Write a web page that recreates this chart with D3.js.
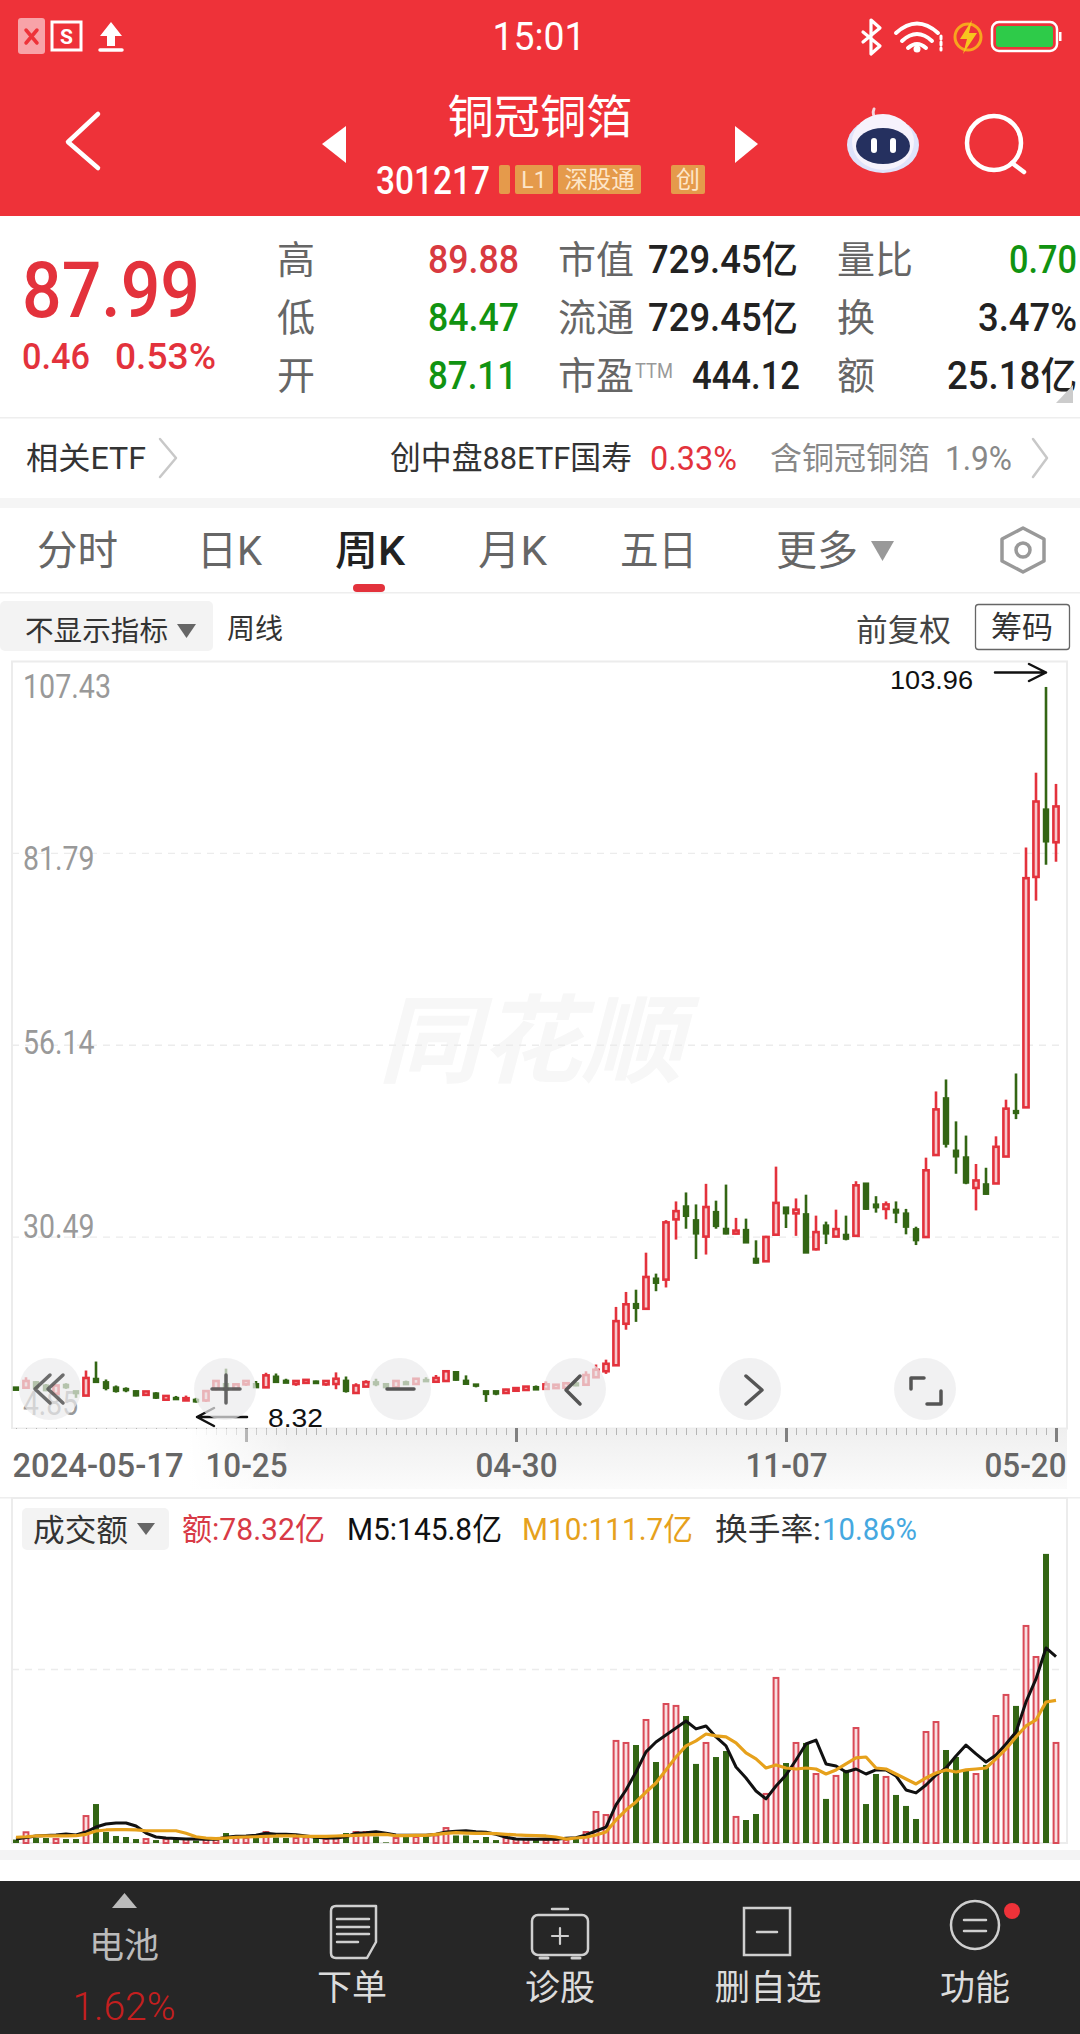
<!DOCTYPE html>
<html>
<head>
<meta charset="utf-8">
<script src="https://cdn.jsdelivr.net/npm/d3@7"></script>
<style>
html, body { margin: 0; padding: 0; background: #fff; }
svg { display: block; }
text { font-family: Roboto, "Noto Sans CJK SC", sans-serif; }
</style>
</head>
<body>
<svg id="page" width="1080" height="2034"></svg>
<script>
// weekly candles, oldest first
var opens = [10.35,10.3,11.05,10.6,9.5,10.7,9.85,9.25,11.5,11.05,10.35,10.15,9.85,9.35,9.55,8.7,8.95,8.6,8.7,8.6,10.15,10.8,10.15,10.75,10.8,10.35,11.8,11.25,10.8,10.95,11.15,10.75,10.8,11.25,9.6,10.45,11.05,10.8,10.35,11.05,10.8,11.35,11.1,11.2,12.4,11.25,10.75,9.85,9.85,9.6,9.9,10.0,10.4,10.15,10.25,10.3,10.9,10.7,11.7,12.5,13.3,18.85,21.5,20.85,24.9,24.75,32.8,34.55,32.7,30.5,33.8,31.55,30.9,31.4,27.55,27.2,30.75,34.4,33.6,33.5,28.8,32.0,30.5,30.75,30.6,37.6,34.8,34.2,34.1,33.6,31.5,30.44,41.4,49.0,42.0,41.1,37.0,37.5,37.6,41.2,47.3,47.77,78.57,87.6,83.2];
var closes = [10.0,11.2,10.3,9.95,10.6,10.35,9.55,11.6,11.05,10.25,9.85,9.95,9.25,9.8,8.95,9.2,8.75,8.9,8.45,9.85,11.2,10.0,10.75,11.2,10.35,11.95,11.05,10.95,11.2,11.35,10.9,11.2,11.5,9.85,10.6,11.05,10.75,10.35,11.2,10.75,11.5,11.2,11.6,12.5,11.35,10.8,10.55,9.45,9.5,10.05,10.25,10.45,10.05,10.75,10.7,10.9,10.6,12.0,12.7,13.5,19.2,21.45,20.95,25.1,24.3,32.4,33.9,33.25,30.9,34.45,31.9,30.9,31.3,29.7,27.0,30.45,35.0,33.6,34.1,28.35,31.1,30.9,31.5,30.2,37.35,34.2,34.4,34.8,33.7,31.8,30.0,39.36,47.5,42.9,41.2,37.7,38.0,36.2,42.5,47.6,47.0,78.4,88.65,83.3,87.99];
var highs = [10.35,11.7,11.2,10.8,10.6,10.9,9.85,12.6,13.8,11.4,10.6,10.35,9.95,9.8,9.7,9.2,9.2,9.25,8.95,9.95,11.25,12.85,10.8,11.2,11.2,12.3,12.2,11.5,11.2,11.35,11.25,11.2,12.35,11.8,10.9,11.3,11.5,10.9,11.2,11.25,11.5,11.7,12.0,12.65,12.5,11.95,10.75,9.85,9.85,10.15,10.25,10.45,10.6,11.15,10.8,11.0,11.05,12.5,13.4,14.05,21.1,23.1,23.4,28.35,25.55,32.7,35.2,36.4,34.8,37.55,35.3,37.45,33.0,32.9,30.0,30.6,39.85,34.4,35.6,36.1,33.3,32.5,34.1,33.3,37.9,37.6,35.9,35.2,35.2,34.2,31.82,41.05,49.9,51.5,45.9,44.0,40.2,39.7,43.9,48.8,52.3,82.5,92.5,103.96,91.0];
var lows = [10.0,10.3,10.15,9.85,9.5,10.15,8.95,9.25,11.05,9.95,9.65,9.7,9.15,9.35,8.8,8.6,8.75,8.6,8.32,8.4,9.95,9.95,10.0,10.55,10.35,10.35,11.05,10.95,10.55,10.95,10.9,10.55,10.1,9.65,9.5,10.4,10.5,10.35,10.35,10.75,10.8,11.2,11.1,11.2,11.25,10.8,10.35,8.4,9.3,9.6,9.9,10.0,10.05,10.15,10.25,10.3,10.5,10.7,11.7,12.15,13.3,18.05,19.1,20.85,23.2,23.7,30.1,31.55,27.5,28.1,31.55,30.8,30.8,29.65,26.9,27.2,30.75,31.65,30.6,28.35,28.65,29.5,30.5,30.0,30.6,34.05,33.7,32.8,32.3,30.8,29.37,30.4,41.4,42.4,38.9,37.5,34.0,36.1,37.6,41.2,46.2,47.77,75.4,80.2,80.6];

// turnover in 亿
var amounts = [2.7,8.4,3.9,3.9,3.1,3.1,3.1,21.1,30.5,8.6,5.5,4.7,3.1,3.1,2.3,3.1,3.1,3.1,2.0,2.7,2.7,7.8,3.9,3.9,4.3,8.6,4.3,3.9,3.9,4.3,4.3,3.1,4.7,7.8,8.6,8.6,5.1,0.5,3.9,5.1,4.7,5.1,5.9,11.7,5.9,5.9,2.3,4.7,2.3,3.9,3.1,3.1,3.9,2.3,2.3,2.3,3.1,8.6,24.3,21.9,79.9,78.3,76.7,96.3,63.4,108.8,107.3,99.4,61.9,78.3,67.3,72.0,20.4,18.0,22.7,38.4,129.2,62.6,78.3,78.3,54.0,34.5,52.5,57.2,90.0,30.5,54.0,51.7,37.6,29.0,18.8,86.9,94.7,72.8,67.3,57.2,54.0,61.1,99.4,115.9,107.3,169.9,145.6,226.3,78.32];
var m5 = [3.1,4.3,5.5,5.9,6.3,7.0,6.3,8.6,12.5,14.9,15.7,15.7,13.3,7.8,4.7,3.9,3.5,3.1,3.1,2.9,2.9,4.5,5.2,5.5,6.0,7.6,6.8,6.8,6.5,5.5,4.5,3.9,3.9,4.9,7.6,8.1,8.8,7.6,6.3,6.0,6.0,6.0,6.8,8.6,9.2,9.6,8.8,8.4,6.8,4.5,3.1,2.9,2.9,3.1,2.9,3.7,4.1,6.3,9.4,12.5,29.8,41.5,55.6,71.3,79.1,84.6,90.0,95.5,89.3,91.6,83.0,76.0,59.5,50.9,40.7,34.5,44.6,53.2,65.0,77.5,80.6,61.9,60.3,55.6,57.9,54.0,57.2,57.2,52.5,41.5,39.2,45.4,53.2,58.7,68.1,76.7,69.7,63.4,68.9,77.5,86.9,110.4,128.4,152.7,145.8];
var m10 = [4.5,4.9,5.5,5.5,5.5,5.5,5.7,6.8,9.4,10.2,10.4,10.4,10.2,9.6,9.6,9.6,9.6,7.6,4.9,3.9,3.4,3.9,4.5,4.7,4.9,5.2,5.5,5.5,5.5,5.2,5.2,5.2,5.5,5.7,6.0,6.3,6.5,6.8,5.7,5.7,6.0,6.0,6.8,7.6,8.1,7.8,7.6,7.6,7.3,6.8,6.3,6.0,5.7,5.5,4.7,3.1,3.9,4.5,6.3,8.6,18.0,25.8,32.1,39.9,47.0,57.2,67.3,76.0,79.9,85.3,83.8,83.0,78.3,70.5,65.8,58.7,61.1,58.7,57.9,58.7,57.9,54.0,57.2,61.9,66.6,67.3,58.7,57.9,54.0,50.1,46.2,50.9,54.8,57.2,55.6,57.2,57.9,58.7,65.8,73.6,83.0,91.6,96.3,110.4,111.7];

var priceTicks = [107.43, 81.79, 56.14, 30.49, 4.85];
var priceTickLabels = ["107.43", "81.79", "56.14", "30.49", "4.85"];
var majorWeeks = [23, 50, 77, 104];
var labelWeeks = [0, 23, 50, 77, 104];
var dateLabels = ["2024-05-17", "10-25", "04-30", "11-07", "05-20"];

var RED = "#e3323c", GREEN = "#336614", HEAD = "#ee3239";

var svg = d3.select("#page");
var defs = svg.append("defs");

function label(g, s, x, y, size, fill, opt) {
  opt = opt || {};
  var t = g.append("text").attr("x", x).attr("y", y).attr("font-size", size).attr("fill", fill)
    .attr("text-anchor", opt.anchor || "start").attr("dominant-baseline", "central").text(s);
  if (opt.width) t.attr("textLength", opt.width).attr("lengthAdjust", "spacingAndGlyphs");
  if (opt.weight) t.attr("font-weight", opt.weight);
  if (opt.family) t.style("font-family", opt.family);
  return t;
}
function stroke(g, d, color, w) {
  return g.append("path").attr("d", d).attr("fill", "none").attr("stroke", color)
    .attr("stroke-width", w).attr("stroke-linecap", "round").attr("stroke-linejoin", "round");
}
function box(g, bx, by, w, h, rx, fill) {
  return g.append("rect").attr("x", bx).attr("y", by).attr("width", w).attr("height", h).attr("rx", rx).attr("fill", fill);
}

// ---------- header
var head = svg.append("g");
box(head, 0, 0, 1080, 216, 0, HEAD);
box(head, 18, 18, 27, 36, 3, "#f8a3a8");
stroke(head, "M26 30L37 43M37 30L26 43", HEAD, 3.5);
box(head, 52, 22, 29, 28, 0, "none").attr("stroke", "#fff").attr("stroke-width", 3);
label(head, "S", 66.5, 37, 21, "#fff", { anchor: "middle", weight: 700 });
stroke(head, "M100 50H122", "#fff", 3.5);
head.append("path").attr("d", "M111 22L122 36H115V46H107V36H100Z").attr("fill", "#fff");
label(head, "15:01", 539, 37, 38, "#fff", { anchor: "middle", width: 93 });
stroke(head, "M863 32L880 46L871 54V20L880 28L863 42", "#fff", 3.2);
stroke(head, "M896 33Q917 14 938 33M902 41Q917 27 932 41M908 48Q917 40 926 48", "#fff", 4);
head.append("circle").attr("cx", 917).attr("cy", 49).attr("r", 3.5).attr("fill", "#fff");
stroke(head, "M941 36V50", "#fff", 3).attr("stroke-dasharray", "3 3");
head.append("circle").attr("cx", 968).attr("cy", 37).attr("r", 13).attr("fill", "none").attr("stroke", "#f7a51e").attr("stroke-width", 3);
head.append("path").attr("d", "M972 20L960 39H967L963 54L977 33H969Z").attr("fill", "#f7c51e");
box(head, 992, 22, 65, 29, 7, "none").attr("stroke", "#fff").attr("stroke-width", 2.5);
box(head, 996, 26, 57, 21, 3, "#2ecb49");
box(head, 1059, 32, 2.5, 9, 0, "#fff");

stroke(head, "M98 114L68 142L98 168", "#fff", 4.5);
head.append("path").attr("d", "M346 126V163L322 144Z").attr("fill", "#fff");
head.append("path").attr("d", "M735 126V163L758 144Z").attr("fill", "#fff");
label(head, "铜冠铜箔", 540, 117, 46, "#fff", { anchor: "middle", width: 185 });
label(head, "301217", 376, 181, 38, "#fff", { width: 114, weight: 500 });

var BADGE = "#e59a4b";
box(head, 499, 165, 11, 29, 2, BADGE);
box(head, 515, 165, 38, 29, 2, BADGE);
box(head, 558, 165, 83, 29, 2, BADGE);
box(head, 671, 165, 34, 29, 2, BADGE);
label(head, "L1", 534, 180, 23, "#fde6c9", { anchor: "middle" });
label(head, "深股通", 599.5, 180, 24, "#fde6c9", { anchor: "middle", width: 70 });
label(head, "创", 688, 180, 24, "#fde6c9", { anchor: "middle" });

// robot + search
stroke(head, "M874 109Q871 116 878 118", "#f4d5de", 3);
head.append("ellipse").attr("cx", 883).attr("cy", 145).attr("rx", 36).attr("ry", 28).attr("fill", "#dfe3fb");
head.append("ellipse").attr("cx", 883).attr("cy", 142).attr("rx", 31).attr("ry", 28).attr("fill", "#f6f2fc");
head.append("ellipse").attr("cx", 883).attr("cy", 146).attr("rx", 27).attr("ry", 18).attr("fill", "#25305f");
box(head, 871, 138, 6, 15, 3, "#fff");
box(head, 890, 138, 6, 15, 3, "#fff");
head.append("circle").attr("cx", 994).attr("cy", 143).attr("r", 27).attr("fill", "none").attr("stroke", "#fff").attr("stroke-width", 4.5);
stroke(head, "M1012 163L1024 172", "#fff", 4.5);

// ---------- quote panel
var quote = svg.append("g");
label(quote, "87.99", 22, 290, 78, RED, { width: 178, weight: 500 });
label(quote, "0.46", 22, 357, 36, RED, { width: 68, weight: 500 });
label(quote, "0.53%", 115, 357, 36, RED, { width: 101, weight: 500 });

var INK = "#222", LBL = "#666", UPG = "#119311";
["高", "低", "开"].forEach(function(s, i) {
  label(quote, s, 296, 260 + i * 58, 38, LBL, { anchor: "middle" });
});
label(quote, "89.88", 428, 260, 38, "#d83a40", { width: 91, weight: 500 });
label(quote, "84.47", 428, 318, 38, UPG, { width: 91, weight: 500 });
label(quote, "87.11", 428, 376, 38, UPG, { width: 89, weight: 500 });

label(quote, "市值", 558, 260, 38, LBL);
label(quote, "流通", 558, 318, 38, LBL);
label(quote, "市盈", 558, 376, 38, LBL);
label(quote, "TTM", 635, 371, 20, "#999", { width: 38 });
label(quote, "729.45亿", 648, 260, 38, INK, { width: 150, weight: 500 });
label(quote, "729.45亿", 648, 318, 38, INK, { width: 150, weight: 500 });
label(quote, "444.12", 692, 376, 38, INK, { width: 108, weight: 500 });

label(quote, "量比", 837, 260, 38, LBL);
label(quote, "换", 837, 318, 38, LBL);
label(quote, "额", 837, 376, 38, LBL);
label(quote, "0.70", 1009, 260, 38, UPG, { width: 68, weight: 500 });
label(quote, "3.47%", 978, 318, 38, INK, { width: 99, weight: 500 });
label(quote, "25.18亿", 947, 376, 38, INK, { width: 130, weight: 500 });
quote.append("path").attr("d", "M1073 385V403H1056Z").attr("fill", "#ccc");
box(quote, 0, 417, 1080, 1.5, 0, "#eee");

// ---------- ETF row
var etf = svg.append("g");
label(etf, "相关ETF", 26, 458, 31, "#333", { width: 120 });
stroke(etf, "M160 439L176 458L160 477", "#c8c8c8", 2.5);
label(etf, "创中盘88ETF国寿", 390, 458, 32, "#333", { width: 242 });
label(etf, "0.33%", 650, 458, 33, RED, { width: 87 });
label(etf, "含铜冠铜箔", 770, 458, 31, "#888", { width: 160 });
label(etf, "1.9%", 945, 458, 33, "#888", { width: 67 });
stroke(etf, "M1033 439L1047 458L1033 477", "#c8c8c8", 2.5);
box(etf, 0, 498, 1080, 10, 0, "#f5f5f5");

// ---------- period tabs
var tabs = svg.append("g");
label(tabs, "分时", 37, 551, 41, LBL, { width: 81 });
label(tabs, "日K", 197, 551, 41, LBL, { width: 65 });
label(tabs, "周K", 335, 551, 41, "#222", { width: 70, weight: 500 });
label(tabs, "月K", 478, 551, 41, LBL, { width: 69 });
label(tabs, "五日", 620, 551, 41, LBL, { width: 77 });
label(tabs, "更多", 776, 551, 41, LBL, { width: 82 });
tabs.append("path").attr("d", "M871 541H894L882.5 561Z").attr("fill", "#999");
stroke(tabs, "M1023 528L1044 539V561L1023 572L1002 561V539Z", "#999", 3.5);
tabs.append("circle").attr("cx", 1023).attr("cy", 550).attr("r", 7).attr("fill", "none").attr("stroke", "#999").attr("stroke-width", 3.5);
box(tabs, 353, 584, 32, 8, 4, RED);
box(tabs, 0, 592, 1080, 1.5, 0, "#eee");

box(tabs, 0, 601, 213, 50, 5, "#f3f3f3");
label(tabs, "不显示指标", 25, 631, 28, "#333", { width: 143 });
tabs.append("path").attr("d", "M177 624H196L186.5 638Z").attr("fill", "#666");
label(tabs, "周线", 227, 629, 28, "#333", { width: 56 });
label(tabs, "前复权", 856, 630, 31, "#444", { width: 95 });
box(tabs, 975.5, 604.5, 94, 45, 3, "#fff").attr("stroke", "#666").attr("stroke-width", 1.3);
label(tabs, "筹码", 1022, 627, 31, "#333", { anchor: "middle", width: 62 });

// ---------- price panel
var x = d3.scaleLinear().domain([0, 104]).range([16, 1056]);
var y = d3.scaleLinear().domain([4.85, 107.43]).range([1428.5, 661]);

var chart = svg.append("g");
box(chart, 12, 661.5, 1055, 767, 0, "#fff").attr("stroke", "#ececec").attr("stroke-width", 2);

// watermark
label(chart, "同花顺", 378, 1042, 96, "#f7f7f7", { width: 305, weight: 700 }).attr("font-style", "italic");

var grid = chart.append("g").attr("transform", "translate(12,0)")
  .call(d3.axisLeft(y).tickValues(priceTicks.slice(1, 4)).tickSize(-1050).tickFormat(""));
grid.select(".domain").remove();
grid.selectAll("line").attr("stroke", "#ececec").attr("stroke-width", 1.3).attr("stroke-dasharray", "7 6");

// the app spreads its price labels evenly, they do not sit on the grid lines
var labelOffsets = [686, 858, 1042, 1226, 1403];
chart.selectAll("text.price").data(priceTickLabels).enter().append("text").attr("class", "price")
  .attr("x", 23).attr("y", function(d, i) { return labelOffsets[i]; })
  .attr("dominant-baseline", "central").attr("font-size", 33).attr("fill", "#999")
  .attr("textLength", function(d) { return (d.length - 1) * 16.5 + 5.5; })
  .attr("lengthAdjust", "spacingAndGlyphs")
  .text(function(d) { return d; });

var weeks = d3.range(opens.length);
var LINE = 2.6;
function isUp(i) { return closes[i] >= opens[i]; }
chart.append("g").selectAll("line").data(weeks).enter().append("line")
  .attr("x1", function(i) { return x(i); }).attr("x2", function(i) { return x(i); })
  .attr("y1", function(i) { return y(highs[i]); }).attr("y2", function(i) { return y(lows[i]); })
  .attr("stroke", function(i) { return isUp(i) ? RED : GREEN; })
  .attr("stroke-width", LINE);
chart.append("g").selectAll("rect").data(weeks).enter().append("rect")
  .attr("x", function(i) { return x(i) - (isUp(i) ? 2.6 : 2.2); })
  .attr("width", function(i) { return isUp(i) ? 5.2 : 4.4; })
  .attr("y", function(i) { return y(Math.max(opens[i], closes[i])); })
  .attr("height", function(i) { return Math.max(1.5, Math.abs(y(opens[i]) - y(closes[i]))); })
  .attr("fill", function(i) { return isUp(i) ? "#f6c9cc" : GREEN; })
  .attr("stroke", function(i) { return isUp(i) ? RED : GREEN; })
  .attr("stroke-width", function(i) { return isUp(i) ? 2.6 : 2; });

// high / low markers
var hiWeek = d3.maxIndex(highs), loWeek = d3.minIndex(lows);
var SANS = '"Liberation Sans", Arial, sans-serif';
label(chart, d3.format(".2f")(highs[hiWeek]), 890, 680, 26, "#111", { width: 83, family: SANS });
stroke(chart, "M995 672.5H1046M1029 664L1046 672.5L1029 681", "#111", 2.5);
label(chart, d3.format(".2f")(lows[loWeek]), 268, 1418, 26, "#111", { width: 55, family: SANS });
stroke(chart, "M247 1417H197M214 1408L197 1417L214 1426", "#111", 2.5);

// time axis
var axisTop = 1428;
var stripGrad = defs.append("linearGradient").attr("id", "strip").attr("x1", 0).attr("y1", 0).attr("x2", 0).attr("y2", 1);
stripGrad.append("stop").attr("offset", 0).attr("stop-color", "#efefef");
stripGrad.append("stop").attr("offset", 1).attr("stop-color", "#fbfbfb");
box(chart, 0, axisTop + 1, 1067, 60, 0, "url(#strip)");

var minor = chart.append("g").attr("transform", "translate(0," + axisTop + ")")
  .call(d3.axisBottom(x).tickValues(weeks).tickSize(7).tickFormat(""));
minor.select(".domain").remove();
minor.selectAll("line").attr("stroke", "#b5b5b5").attr("stroke-width", 1);
var major = chart.append("g").attr("transform", "translate(0," + axisTop + ")")
  .call(d3.axisBottom(x).tickValues(majorWeeks).tickSize(14).tickFormat(""));
major.select(".domain").remove();
major.selectAll("line").attr("stroke", "#808080").attr("stroke-width", 3);

var fadeGrad = defs.append("linearGradient").attr("id", "fade");
fadeGrad.append("stop").attr("offset", 0).attr("stop-color", "#fff").attr("stop-opacity", 1);
fadeGrad.append("stop").attr("offset", 0.65).attr("stop-color", "#fff").attr("stop-opacity", 1);
fadeGrad.append("stop").attr("offset", 1).attr("stop-color", "#fff").attr("stop-opacity", 0);
box(chart, 0, axisTop + 1, 290, 62, 0, "url(#fade)");

var dates = chart.append("g").attr("transform", "translate(0,1465)")
  .call(d3.axisBottom(x).tickValues(labelWeeks).tickSize(0).tickPadding(0)
    .tickFormat(function(d, i) { return dateLabels[i]; }));
dates.select(".domain").remove();
dates.selectAll("text").attr("y", 0).attr("dy", null).attr("dominant-baseline", "central")
  .attr("font-size", 33).attr("font-weight", 500).attr("fill", "#666")
  .attr("textLength", function(d, i) { return i === 0 ? 171 : 82; })
  .attr("lengthAdjust", "spacingAndGlyphs")
  .attr("text-anchor", function(d, i) { return i === 0 ? "start" : i === 4 ? "end" : "middle"; })
  .attr("x", function(d, i) { return i === 0 ? -4 : i === 4 ? 10 : 0; });

// overlay buttons
var BTN = "#555";
var buttons = [50, 225, 400, 575, 750, 925];
chart.append("g").selectAll("circle").data(buttons).enter().append("circle")
  .attr("cx", function(d) { return d; }).attr("cy", 1389).attr("r", 31)
  .attr("fill", "#ebebed").attr("fill-opacity", 0.7);
stroke(chart, "M50 1375L35 1389L50 1403M63 1375L48 1389L63 1403", BTN, 3.5).attr("stroke-opacity", 0.85);
stroke(chart, "M226 1375V1403M212 1389H240", BTN, 3.5).attr("stroke-opacity", 0.9);
stroke(chart, "M387 1389H414", BTN, 3.5);
stroke(chart, "M580 1376L566 1390L580 1404", BTN, 3.5);
stroke(chart, "M746 1376L762 1390L746 1404", BTN, 3.5);
stroke(chart, "M911 1389V1378H924M927 1404H941V1391", BTN, 3.5);

box(chart, 0, 1497, 1080, 1.5, 0, "#eee");

// ---------- turnover panel
var yv = d3.scaleLinear().domain([0, 272.4]).range([1843, 1495]);
var vol = svg.append("g");
box(vol, 12, 1498, 1055, 345, 0, "#fff").attr("stroke", "#ececec").attr("stroke-width", 2);
var gridV = vol.append("g").attr("transform", "translate(12,0)")
  .call(d3.axisLeft(yv).tickValues([136.2]).tickSize(-1050).tickFormat(""));
gridV.select(".domain").remove();
gridV.selectAll("line").attr("stroke", "#ececec").attr("stroke-width", 1.3).attr("stroke-dasharray", "7 6");

vol.append("g").selectAll("rect").data(weeks).enter().append("rect")
  .attr("x", function(i) { return x(i) - (isUp(i) ? 2.4 : 3); })
  .attr("width", function(i) { return isUp(i) ? 4.8 : 6; })
  .attr("y", function(i) { return yv(amounts[i]); })
  .attr("height", function(i) { return yv(0) - yv(amounts[i]); })
  .attr("fill", function(i) { return isUp(i) ? "#f8dfe1" : GREEN; })
  .attr("stroke", function(i) { return isUp(i) ? "#d94a57" : "none"; })
  .attr("stroke-width", 2);

var amountLine = function(values) {
  return d3.line().x(function(d, i) { return x(i); }).y(function(d) { return yv(d); })(values);
};
vol.append("path").attr("d", amountLine(m5)).attr("fill", "none").attr("stroke", "#111").attr("stroke-width", 3).attr("stroke-linejoin", "round");
vol.append("path").attr("d", amountLine(m10)).attr("fill", "none").attr("stroke", "#e6a11c").attr("stroke-width", 3.2).attr("stroke-linejoin", "round");

box(vol, 22, 1508, 147, 42, 5, "#f3f3f3");
label(vol, "成交额", 33, 1530, 31, "#333", { width: 95 });
vol.append("path").attr("d", "M137 1523H155L146 1535Z").attr("fill", "#666");
label(vol, "额:78.32亿", 182, 1529, 31, "#d83a46", { width: 143 });
label(vol, "M5:145.8亿", 347, 1529, 31, "#111", { width: 155 });
label(vol, "M10:111.7亿", 522, 1529, 31, "#e6a11c", { width: 171 });
label(vol, "换手率:", 715, 1529, 31, "#333", { width: 106 });
label(vol, "10.86%", 822, 1529, 31, "#45a8e0", { width: 95 });

box(svg, 0, 1850, 1080, 10, 0, "#f3f3f4");

// ---------- bottom nav
var nav = svg.append("g");
var NAVT = "#dcdcdc", NAVI = "#cfcfcf";
box(nav, 0, 1881, 1080, 153, 0, "#262626");
nav.append("path").attr("d", "M112 1908H137L124.5 1893Z").attr("fill", "#bbb");
label(nav, "电池", 124, 1946, 35, "#bbb", { anchor: "middle" });
label(nav, "1.62%", 124, 2007, 38, "#c41f1f", { anchor: "middle", width: 103 }).attr("font-weight", 300);

stroke(nav, "M336 1906H376V1942L367 1958H336Q331 1958 331 1953V1911Q331 1906 336 1906Z", NAVI, 2.5);
stroke(nav, "M337 1919H369M337 1927H369M337 1934H369M337 1942H358", NAVI, 2.5);
label(nav, "下单", 352, 1988, 35, NAVT, { anchor: "middle" });

stroke(nav, "M552 1909H568", NAVI, 2.5);
box(nav, 532, 1915, 56, 40, 6, "none").attr("stroke", NAVI).attr("stroke-width", 2.5);
stroke(nav, "M540 1958H548M572 1958H580", NAVI, 3);
stroke(nav, "M560 1928V1944M552 1936H568", NAVI, 2.2);
label(nav, "诊股", 560, 1988, 35, NAVT, { anchor: "middle" });

box(nav, 744, 1908, 46, 47, 0, "none").attr("stroke", NAVI).attr("stroke-width", 2.5);
stroke(nav, "M757 1932H777", NAVI, 2.5);
label(nav, "删自选", 768, 1988, 35, NAVT, { anchor: "middle", width: 107 });

nav.append("circle").attr("cx", 975).attr("cy", 1925).attr("r", 24).attr("fill", "none").attr("stroke", NAVI).attr("stroke-width", 2.5);
stroke(nav, "M964 1920H986M964 1931H986", NAVI, 2.5);
nav.append("circle").attr("cx", 1012).attr("cy", 1911).attr("r", 8).attr("fill", "#ee3239");
label(nav, "功能", 975, 1988, 35, NAVT, { anchor: "middle" });
</script>
</body>
</html>
